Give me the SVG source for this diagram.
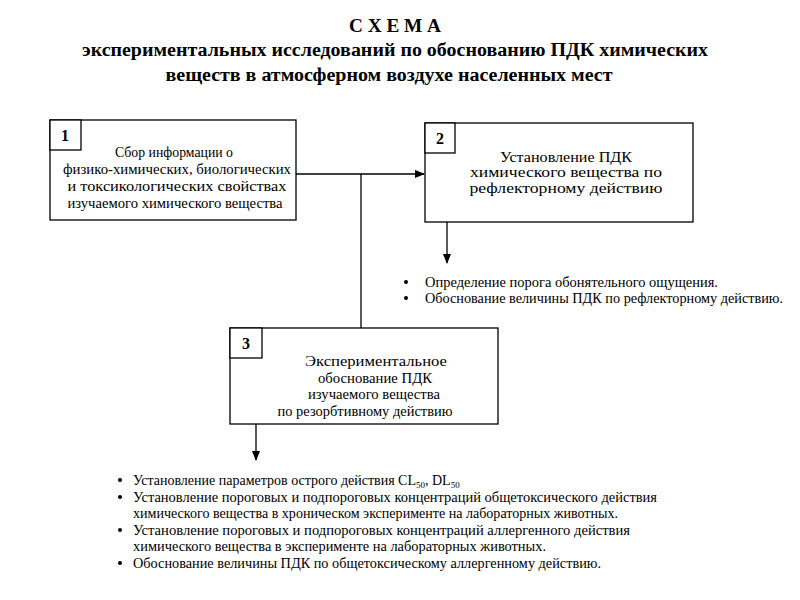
<svg xmlns="http://www.w3.org/2000/svg" width="800" height="600" viewBox="0 0 800 600">
<defs>
<marker id="arr" markerWidth="10" markerHeight="8" refX="9" refY="4" orient="auto" markerUnits="userSpaceOnUse">
<path d="M0,0 L10,4 L0,8 Z" fill="#000"/>
</marker>
<style>
.t{font-family:"Liberation Serif","Times New Roman",serif;fill:#000}
.title{font-size:18px;font-weight:bold;text-anchor:middle}
.bx{font-size:14px;text-anchor:middle}
.num{font-size:16px;font-weight:bold;text-anchor:middle}
.li{font-size:14px}
.box{fill:#fff;stroke:#000;stroke-width:1.3}
.ln{stroke:#000;stroke-width:1.3;fill:none}
</style>
</defs>
<rect width="800" height="600" fill="#fff"/>
<g id="title">
<text class="t title" x="395" y="32" textLength="92" lengthAdjust="spacingAndGlyphs">С Х Е М А</text>
<text class="t title" x="395" y="56" textLength="626" lengthAdjust="spacingAndGlyphs">экспериментальных исследований по обоснованию ПДК химических</text>
<text class="t title" x="389" y="81" textLength="447" lengthAdjust="spacingAndGlyphs">веществ в атмосферном воздухе населенных мест</text>
</g>
<g id="connectors">
<line class="ln" x1="296" y1="174" x2="424" y2="174" marker-end="url(#arr)"/>
<line class="ln" x1="361" y1="174" x2="361" y2="328"/>
<line class="ln" x1="447" y1="222" x2="447" y2="263" marker-end="url(#arr)"/>
<line class="ln" x1="256" y1="424" x2="256" y2="460" marker-end="url(#arr)"/>
</g>
<g id="node1">
<rect class="box" x="50" y="120" width="246" height="100"/>
<rect class="box" x="50" y="120" width="31" height="30"/>
<text class="t num" x="65" y="141">1</text>
<text class="t bx" x="174" y="157" textLength="118" lengthAdjust="spacingAndGlyphs">Сбор информации о</text>
<text class="t bx" x="177" y="174" textLength="228" lengthAdjust="spacingAndGlyphs">физико-химических, биологических</text>
<text class="t bx" x="177" y="191" textLength="219" lengthAdjust="spacingAndGlyphs">и токсикологических свойствах</text>
<text class="t bx" x="175" y="208" textLength="215" lengthAdjust="spacingAndGlyphs">изучаемого химического вещества</text>
</g>
<g id="node2">
<rect class="box" x="425" y="123" width="268" height="99"/>
<rect class="box" x="425" y="123" width="30" height="30"/>
<text class="t num" x="440" y="144">2</text>
<text class="t bx" x="566" y="162" textLength="132" lengthAdjust="spacingAndGlyphs">Установление ПДК</text>
<text class="t bx" x="566" y="177" textLength="192" lengthAdjust="spacingAndGlyphs">химического вещества по</text>
<text class="t bx" x="566" y="193" textLength="193" lengthAdjust="spacingAndGlyphs">рефлекторному действию</text>
</g>
<g id="node3">
<rect class="box" x="230" y="328" width="268" height="96"/>
<rect class="box" x="230" y="328" width="32" height="30"/>
<text class="t num" x="246" y="349">3</text>
<text class="t bx" x="376" y="366" textLength="142" lengthAdjust="spacingAndGlyphs">Экспериментальное</text>
<text class="t bx" x="375" y="383" textLength="114" lengthAdjust="spacingAndGlyphs">обоснование ПДК</text>
<text class="t bx" x="374" y="399" textLength="132" lengthAdjust="spacingAndGlyphs">изучаемого вещества</text>
<text class="t bx" x="365" y="416" textLength="175" lengthAdjust="spacingAndGlyphs">по резорбтивному действию</text>
</g>
<g id="list2">
<circle cx="406" cy="282" r="2"/>
<circle cx="406" cy="298" r="2"/>
<text class="t li" x="425" y="287" textLength="293" lengthAdjust="spacingAndGlyphs">Определение порога обонятельного ощущения.</text>
<text class="t li" x="425" y="303" textLength="358" lengthAdjust="spacingAndGlyphs">Обоснование величины ПДК по рефлекторному действию.</text>
</g>
<g id="list3">
<circle cx="120" cy="480" r="2"/>
<circle cx="120" cy="497" r="2"/>
<circle cx="120" cy="530" r="2"/>
<circle cx="120" cy="563" r="2"/>
<text class="t li" x="133" y="485">Установление параметров острого действия CL<tspan font-size="9" dy="3">50</tspan><tspan dy="-3">, DL</tspan><tspan font-size="9" dy="3">50</tspan></text>
<text class="t li" x="133" y="502" textLength="524" lengthAdjust="spacingAndGlyphs">Установление пороговых и подпороговых концентраций общетоксического действия</text>
<text class="t li" x="133" y="518" textLength="485" lengthAdjust="spacingAndGlyphs">химического вещества в хроническом эксперименте на лабораторных животных.</text>
<text class="t li" x="133" y="535" textLength="497" lengthAdjust="spacingAndGlyphs">Установление пороговых и подпороговых концентраций аллергенного действия</text>
<text class="t li" x="133" y="551" textLength="413" lengthAdjust="spacingAndGlyphs">химического вещества в эксперименте на лабораторных животных.</text>
<text class="t li" x="133" y="568" textLength="468" lengthAdjust="spacingAndGlyphs">Обоснование величины ПДК по общетоксическому аллергенному действию.</text>
</g>
</svg>
